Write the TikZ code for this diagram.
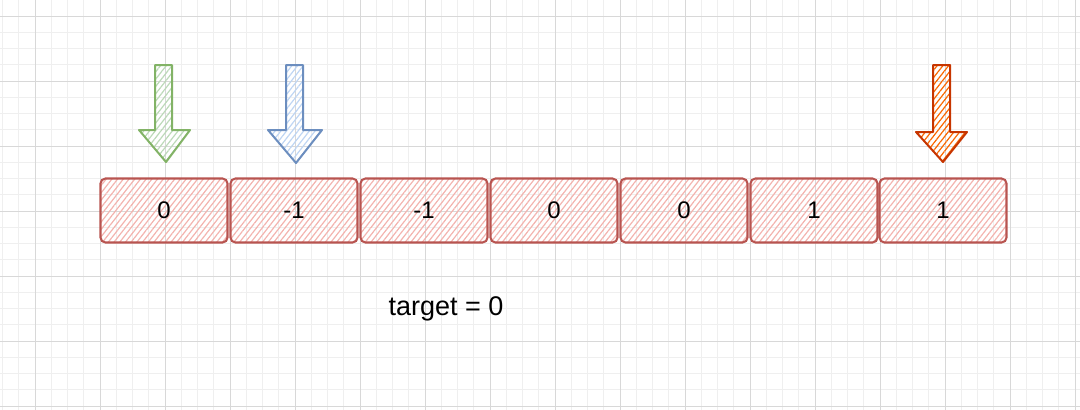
\documentclass[tikz,border=0pt]{standalone}
\usepackage{fontspec}
\setmainfont{Liberation Sans}
\usetikzlibrary{patterns.meta}
\definecolor{gridminor}{HTML}{EFEFEF}
\definecolor{gridmajor}{HTML}{D8D8D8}
\definecolor{cellline}{HTML}{B85450}
\definecolor{cellhatch}{HTML}{F3B3AE}
\definecolor{gline}{HTML}{82B366}
\definecolor{ghatch}{HTML}{BCD9B8}
\definecolor{bline}{HTML}{6C8EBF}
\definecolor{bhatch}{HTML}{BED5F3}
\definecolor{oline}{HTML}{C73500}
\definecolor{ohatch}{HTML}{FA6800}
\tikzset{
  cell/.style={draw=cellline, line width=2.1pt, rounded corners=5pt,
    pattern={Lines[angle=52,distance=4.5pt,line width=1.2pt]}, pattern color=cellhatch,
    minimum width=127pt, minimum height=64pt, inner sep=0pt,
    font=\fontsize{24}{28}\selectfont, text=black},
  ptr/.style={line width=2pt, line join=round,
    pattern={Lines[angle=52,distance=4.5pt,line width=1.2pt]}},
  label/.style={font=\fontsize{27}{32}\selectfont, text=black}
}
\begin{document}
\begin{tikzpicture}[x=1pt,y=-1pt]
\useasboundingbox (0,0) rectangle (1080,410);
% grid
\foreach \i in {0,...,66} {
  \draw[gridminor, line width=1pt] ({2.5+16.25*\i},0) -- ({2.5+16.25*\i},410);
}
\foreach \i in {0,...,25} {
  \draw[gridminor, line width=1pt] (0,{-0.25+16.25*\i}) -- (1080,{-0.25+16.25*\i});
}
\foreach \i in {0,...,16} {
  \draw[gridmajor, line width=1pt] ({35+65*\i},0) -- ({35+65*\i},410);
}
\foreach \i in {0,...,6} {
  \draw[gridmajor, line width=1pt] (0,{16+65*\i}) -- (1080,{16+65*\i});
}
% cells
\node[cell] (c1) at (164,210.5) {0};
\node[cell] (c2) at (294,210.5) {-1};
\node[cell] (c3) at (424,210.5) {-1};
\node[cell] (c4) at (554,210.5) {0};
\node[cell] (c5) at (684,210.5) {0};
\node[cell] (c6) at (814,210.5) {1};
\node[cell] (c7) at (943,210.5) {1};
% pointers
\draw[ptr, draw=gline, pattern color=ghatch]
  (155,65) -- (172,65) -- (172,130) -- (190,130) -- (166,162) -- (139,130) -- (155,130) -- cycle;
\draw[ptr, draw=bline, pattern color=bhatch]
  (286,65) -- (303,65) -- (303,130) -- (322,130) -- (296,163) -- (268,130) -- (286,130) -- cycle;
\draw[ptr, draw=oline, pattern color=ohatch]
  (933,65) -- (950,65) -- (950,132) -- (967,132) -- (943,162) -- (916,132) -- (933,132) -- cycle;
% label
\node[label] (t) at (446,309) {target = 0};
\end{tikzpicture}
\end{document}
